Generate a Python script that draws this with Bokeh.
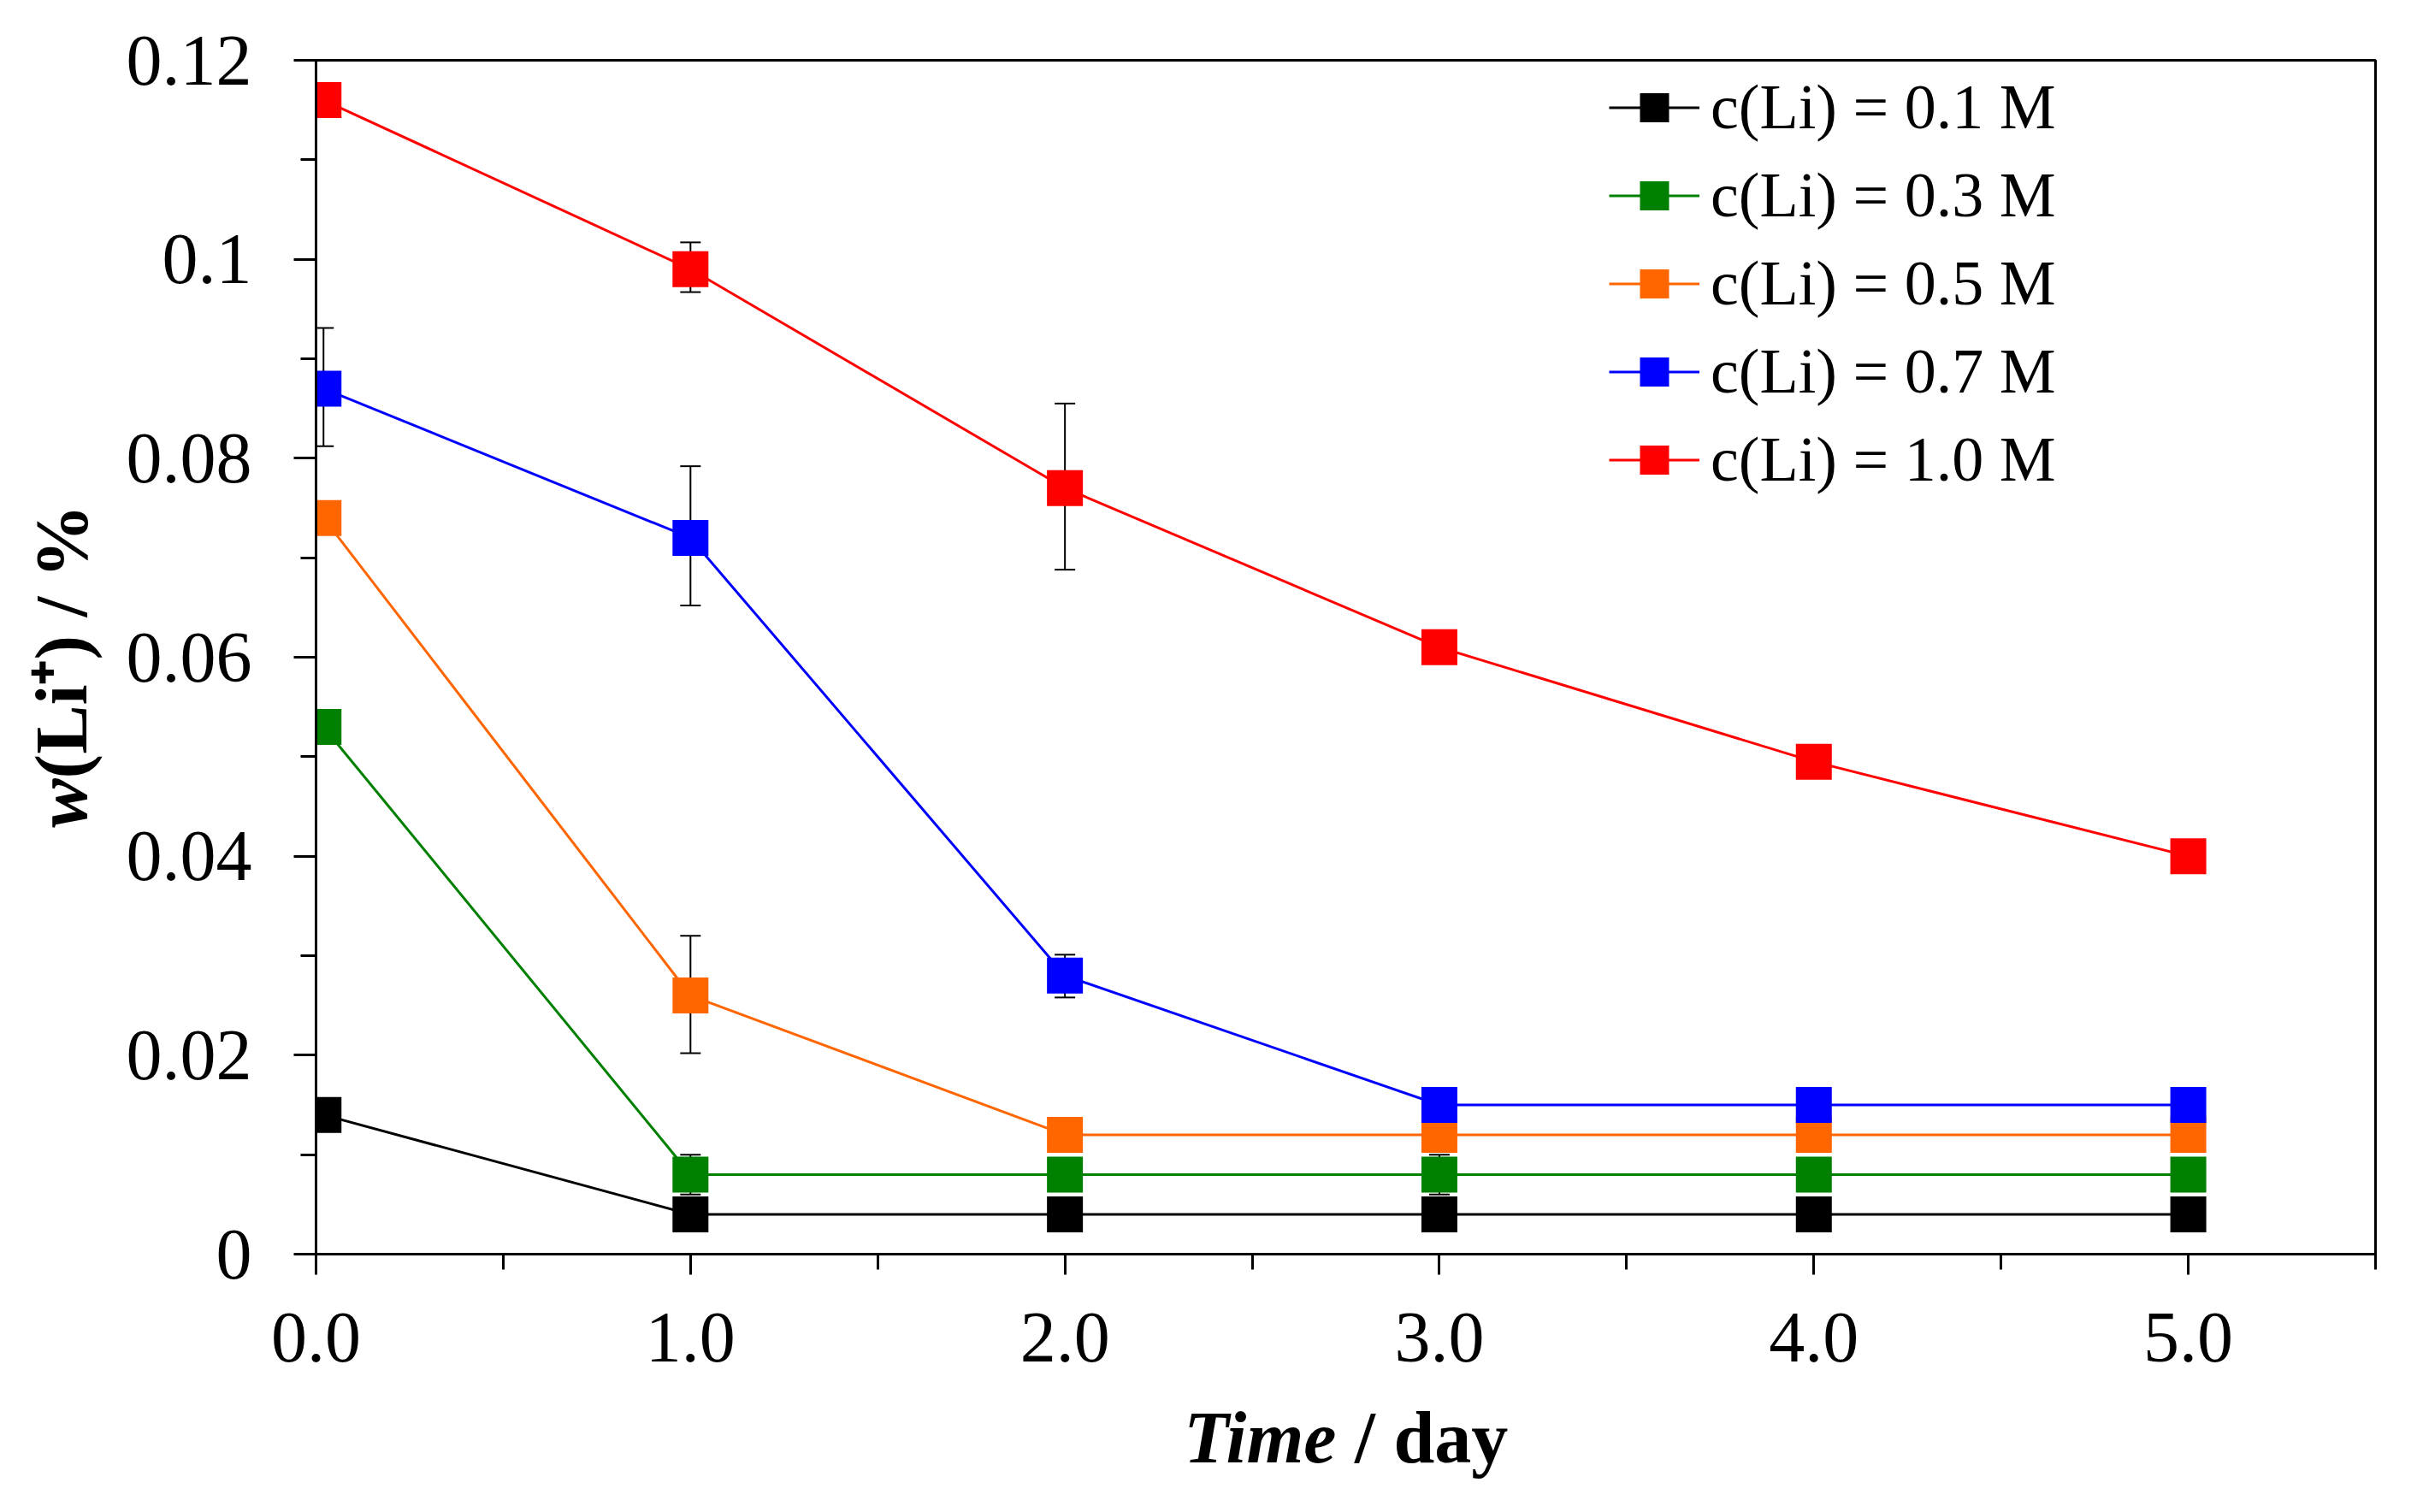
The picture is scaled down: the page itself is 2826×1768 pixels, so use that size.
from bokeh.plotting import figure
from bokeh.layouts import column, row
from bokeh.models import (ColumnDataSource, FixedTicker, Legend,
                          LegendItem, TeeHead, Whisker)
from bokeh.core.properties import value
from bokeh.embed import file_html
from bokeh.resources import INLINE

# data
days = [0.02, 1, 2, 3, 4, 5]
w_01 = [0.014, 0.004, 0.004, 0.004, 0.004, 0.004]
w_03 = [0.053, 0.008, 0.008, 0.008, 0.008, 0.008]
w_05 = [0.074, 0.026, 0.012, 0.012, 0.012, 0.012]
w_07 = [0.087, 0.072, 0.028, 0.015, 0.015, 0.015]
w_10 = [0.116, 0.099, 0.077, 0.061, 0.0495, 0.040]

series_names = ["c(Li) = 0.1 M", "c(Li) = 0.3 M", "c(Li) = 0.5 M",
                "c(Li) = 0.7 M", "c(Li) = 1.0 M"]
series_colors = ["#000000", "#008000", "#FF6600", "#0000FF", "#FF0000"]

# error bars
err_x = [1, 2, 0.02, 1, 2, 1, 1, 3]
err_upper = [0.1017, 0.0855, 0.0931, 0.0792, 0.0301, 0.0320, 0.0100, 0.0100]
err_lower = [0.0967, 0.0688, 0.0812, 0.0652, 0.0258, 0.0202, 0.0060, 0.0060]

x_ticks = [0, 1, 2, 3, 4, 5]
x_minor = [0.5, 1.5, 2.5, 3.5, 4.5, 5.5]
x_labels = ["0.0", "1.0", "2.0", "3.0", "4.0", "5.0"]
y_ticks = [0, 0.02, 0.04, 0.06, 0.08, 0.1, 0.12]
y_minor = [0.01, 0.03, 0.05, 0.07, 0.09, 0.11]
y_labels = ["0", "0.02", "0.04", "0.06", "0.08", "0.1", "0.12"]

FONT = "Liberation Serif"
W, H = 2810, 1750
YLAB_W, XLAB_H = 130, 118

p = figure(width=W - YLAB_W, height=H - XLAB_H, x_range=(0, 5.5), y_range=(0, 0.12),
           output_backend="svg", toolbar_location=None,
           min_border_left=369 - YLAB_W, min_border_right=33,
           min_border_top=70, min_border_bottom=H - XLAB_H - 1466)
p.grid.visible = False
p.outline_line_color = "black"
p.outline_line_width = 3

p.xaxis.ticker = FixedTicker(ticks=x_ticks, minor_ticks=x_minor)
p.xaxis.major_label_overrides = dict(zip(x_ticks, x_labels))
p.yaxis.ticker = FixedTicker(ticks=y_ticks, minor_ticks=y_minor)
p.yaxis.major_label_overrides = dict(zip(y_ticks, y_labels))

for ax in (p.xaxis, p.yaxis):
    ax.axis_line_width = 3
    ax.axis_line_color = "black"
    ax.major_tick_line_width = 3
    ax.minor_tick_line_width = 3
    ax.major_tick_line_color = "black"
    ax.minor_tick_line_color = "black"
    ax.major_tick_in = 0
    ax.minor_tick_in = 0
    ax.minor_tick_out = 18
    ax.major_label_text_font = FONT
    ax.major_label_text_font_size = "84px"
    ax.major_label_text_color = "black"
    ax.axis_label = None
p.xaxis.major_tick_out = 24
p.yaxis.major_tick_out = 26
p.xaxis.major_label_standoff = 45
p.yaxis.major_label_standoff = 49

errs = ColumnDataSource(data=dict(base=err_x, upper=err_upper, lower=err_lower))
p.add_layout(Whisker(source=errs, base="base", upper="upper", lower="lower",
                     dimension="height", line_color="black", line_width=2,
                     upper_head=TeeHead(size=24, line_color="black", line_width=2),
                     lower_head=TeeHead(size=24, line_color="black", line_width=2),
                     level="underlay"))

items = []
for vals, name, col in zip([w_01, w_03, w_05, w_07, w_10], series_names, series_colors):
    l = p.line(days, vals, line_color=col, line_width=3)
    s = p.scatter(days, vals, marker="square", size=42, fill_color=col, line_color=None)
    items.append(LegendItem(label=name, renderers=[l, s]))

leg = Legend(items=items, location=(1512, 886))
leg.border_line_color = None
leg.background_fill_alpha = 0
leg.padding = 0
leg.margin = 0
leg.spacing = 18
leg.glyph_width = 106
leg.glyph_height = 85
leg.label_height = 85
leg.label_standoff = 13
leg.label_text_font = FONT
leg.label_text_font_size = "74px"
leg.label_text_color = "black"
p.add_layout(leg)

# axis titles (mixed bold italic / bold) drawn in thin side figures
ylab = figure(width=YLAB_W, height=H - XLAB_H, x_range=(0, YLAB_W), y_range=(0, H - XLAB_H),
              output_backend="svg", toolbar_location=None, min_border=0, title=None,
              x_axis_location=None, y_axis_location=None, outline_line_color=None)
ylab.grid.visible = False
ylab.text(x=[71], y=[658 + 1632 - 1640], text=["w"], angle=1.5707963,
          text_font=value(FONT), text_font_size=value("86px"), text_font_style="bold italic",
          text_align="right", text_baseline="alphabetic", text_color="black")
ylab.text(x=[71], y=[658 + 1632 - 1640], text=["(Li\u207a) / %"], angle=1.5707963,
          text_font=value(FONT), text_font_size=value("86px"), text_font_style="bold",
          text_align="left", text_baseline="alphabetic", text_color="black")

xlab = figure(width=W, height=XLAB_H, x_range=(0, W), y_range=(0, XLAB_H),
              output_backend="svg", toolbar_location=None, min_border=0, title=None,
              x_axis_location=None, y_axis_location=None, outline_line_color=None)
xlab.grid.visible = False
xlab.text(x=[1562], y=[70], text=["Time"],
          text_font=value(FONT), text_font_size=value("86px"), text_font_style="bold italic",
          text_align="right", text_baseline="alphabetic", text_color="black")
xlab.text(x=[1562], y=[70], text=["\u00a0/ day"],
          text_font=value(FONT), text_font_size=value("86px"), text_font_style="bold",
          text_align="left", text_baseline="alphabetic", text_color="black")

layout = column(row(ylab, p), xlab)
open("out.html", "w").write(file_html(layout, INLINE))
